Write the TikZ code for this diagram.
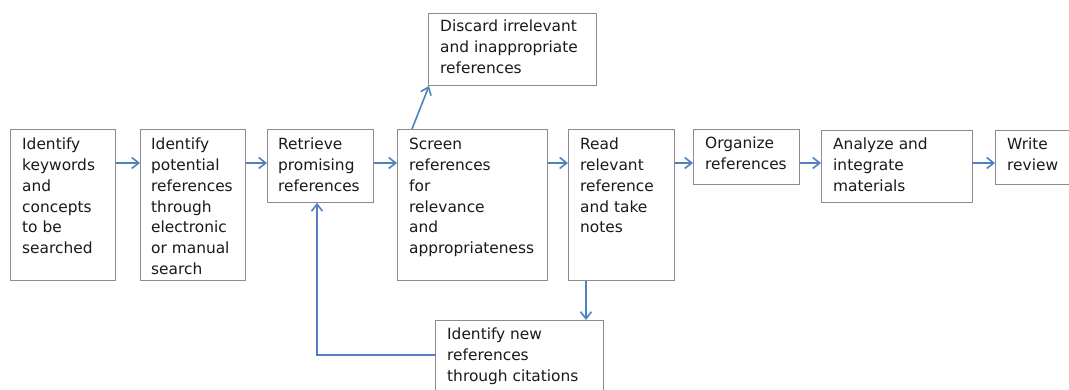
\documentclass[tikz,border=0pt]{standalone}
\usepackage{fontspec}
\setmainfont{DejaVu Sans}
\usetikzlibrary{arrows.meta}
\definecolor{arrblue}{HTML}{4F81BD}
\definecolor{boxgray}{HTML}{8C8C8C}
\definecolor{txt}{HTML}{1A1A1A}
\begin{document}
\begin{tikzpicture}[x=1pt,y=-1pt,
  box/.style={draw=boxgray,line width=0.9pt,anchor=north west,inner sep=0pt},
  lbl/.style={anchor=north west,inner sep=0pt,align=left,text=txt,
    font=\fontsize{15.4}{20.8}\selectfont},
  arr/.style={draw=arrblue,line width=1.6pt,-{Straight Barb[length=7pt,width=11pt,line width=1.6pt]}},
  ln/.style={draw=arrblue,line width=1.6pt}]
\clip (0,0) rectangle (1069,390);
\fill[white] (0,0) rectangle (1069,390);
% boxes
\node[box,minimum width=105pt,minimum height=151pt] (b1) at (10,129) {};
\node[box,minimum width=105pt,minimum height=151pt] (b2) at (140,129) {};
\node[box,minimum width=106pt,minimum height=73pt] (b3) at (267,129) {};
\node[box,minimum width=150pt,minimum height=151pt] (b4) at (397,129) {};
\node[box,minimum width=106pt,minimum height=151pt] (b5) at (568,129) {};
\node[box,minimum width=106pt,minimum height=55pt] (b6) at (693,129) {};
\node[box,minimum width=151pt,minimum height=72pt] (b7) at (821,130) {};
\node[box,minimum width=85pt,minimum height=54pt] (b8) at (995,130) {};
\node[box,minimum width=168pt,minimum height=72pt] (d) at (428,13) {};
\node[box,minimum width=168pt,minimum height=85pt] (nw) at (435,320) {};
% texts
\node[lbl] (t1) at ([shift={(12pt,-6pt)}]b1.north west) {\strut Identify\\keywords\\and\\concepts\\to be\\searched};
\node[lbl] (t2) at ([shift={(11pt,-6pt)}]b2.north west) {\strut Identify\\potential\\references\\through\\electronic\\or manual\\search};
\node[lbl] (t3) at ([shift={(11pt,-6pt)}]b3.north west) {\strut Retrieve\\promising\\references};
\node[lbl] (t4) at ([shift={(12pt,-6pt)}]b4.north west) {\strut Screen\\references\\for\\relevance\\and\\appropriateness};
\node[lbl] (t5) at ([shift={(12pt,-6pt)}]b5.north west) {\strut Read\\relevant\\reference\\and take\\notes};
\node[lbl] (t6) at ([shift={(12pt,-5pt)}]b6.north west) {\strut Organize\\references};
\node[lbl] (t7) at ([shift={(12pt,-5pt)}]b7.north west) {\strut Analyze and\\integrate\\materials};
\node[lbl] (t8) at ([shift={(12pt,-5pt)}]b8.north west) {\strut Write\\review};
\node[lbl] (td) at ([shift={(12pt,-4pt)}]d.north west) {\strut Discard irrelevant\\and inappropriate\\references};
\node[lbl] (tn) at ([shift={(12pt,-5pt)}]nw.north west) {\strut Identify new\\references\\through citations};
% arrows
\draw[arr] ([yshift=-34pt]b1.north east) -- ([yshift=-34pt]b2.north west);
\draw[arr] ([yshift=-34pt]b2.north east) -- ([yshift=-34pt]b3.north west);
\draw[arr] ([yshift=-34pt]b3.north east) -- ([yshift=-34pt]b4.north west);
\draw[arr] ([yshift=-34pt]b4.north east) -- ([yshift=-34pt]b5.north west);
\draw[arr] ([yshift=-34pt]b5.north east) -- ([yshift=-34pt]b6.north west);
\draw[arr] ([yshift=-34pt]b6.north east) -- ([yshift=-33pt]b7.north west);
\draw[arr] ([yshift=-33pt]b7.north east) -- ([yshift=-33pt]b8.north west);
\draw[arr] ([xshift=15pt]b4.north west) -- ([xshift=1pt]d.south west);
\draw[arr] ([xshift=18pt]b5.south west) -- ([xshift=18pt]b5.south west |- nw.north);
\draw[arr] ([yshift=-35pt]nw.north west) -| ([xshift=50pt]b3.south west);
\end{tikzpicture}
\end{document}
